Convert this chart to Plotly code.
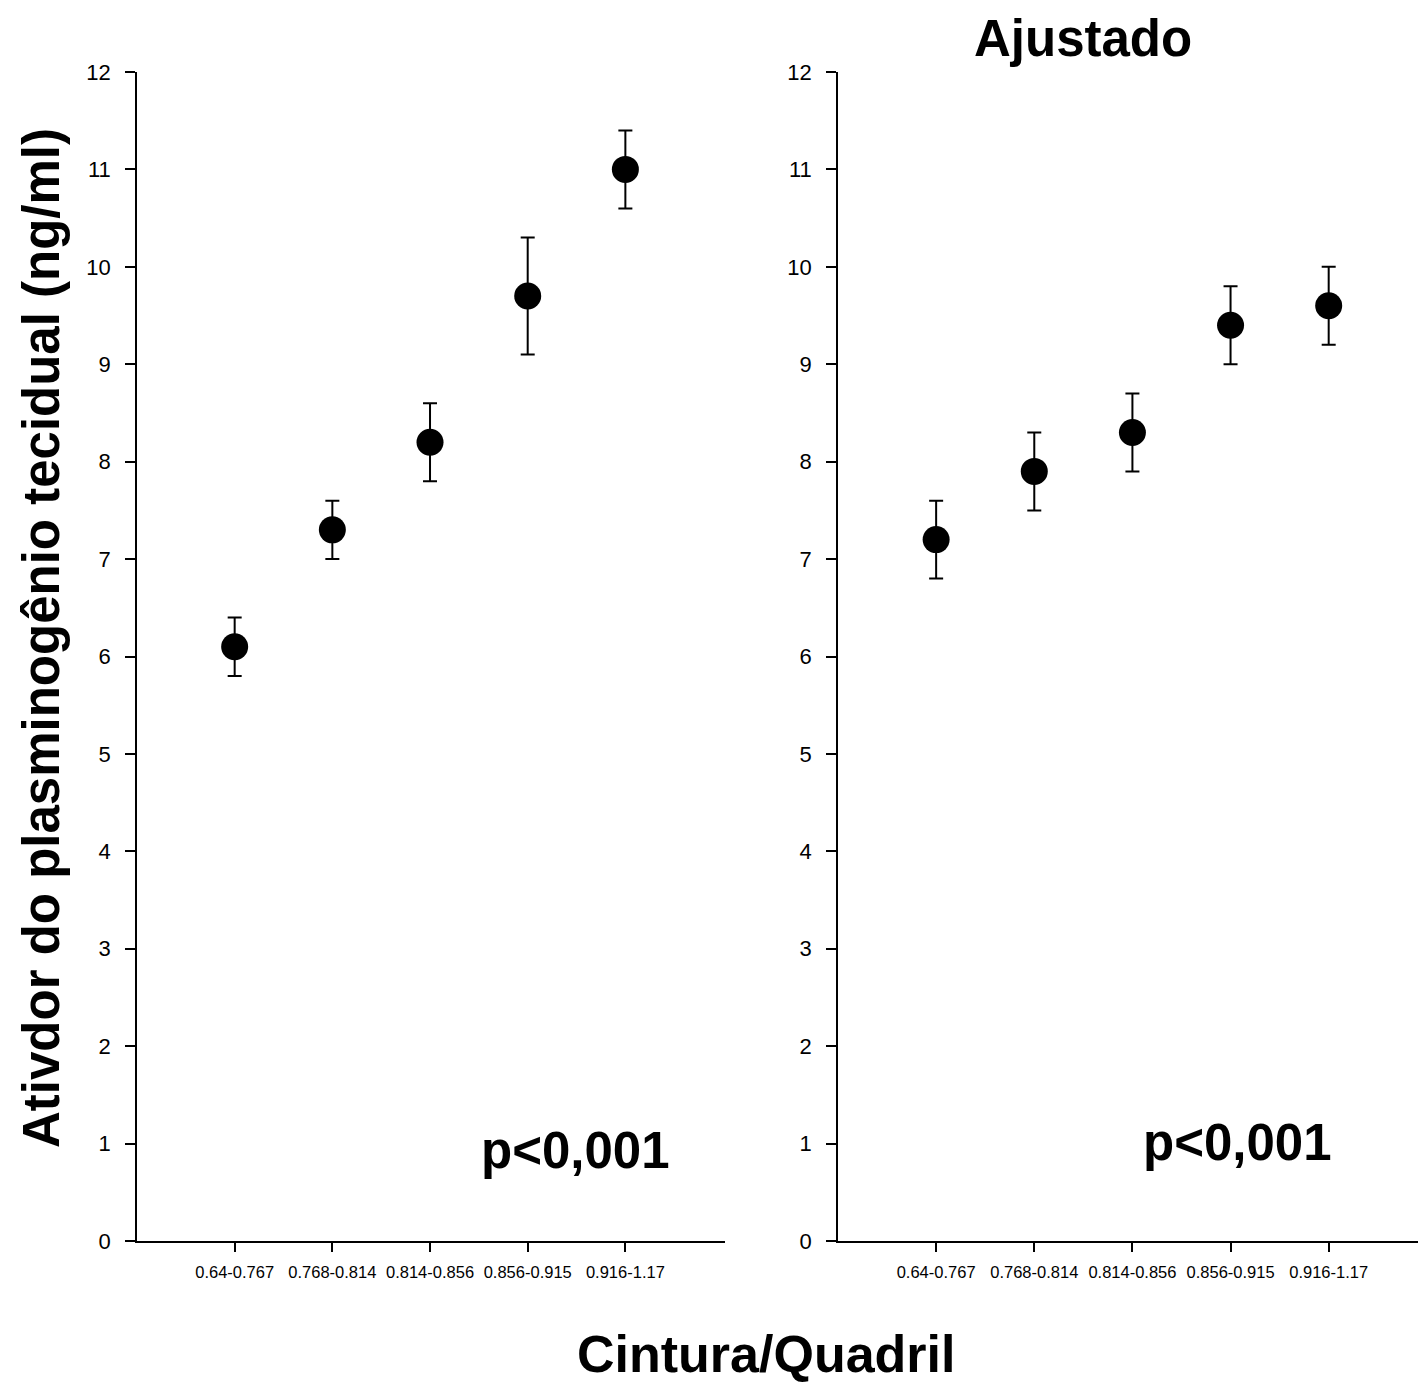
import plotly.graph_objects as go

# ---- data ----
categories = ["0.64-0.767", "0.768-0.814", "0.814-0.856", "0.856-0.915", "0.916-1.17"]
positions = [1, 2, 3, 4, 5]
crude_mean = [6.1, 7.3, 8.2, 9.7, 11.0]
crude_err = [0.3, 0.3, 0.4, 0.6, 0.4]
adj_mean = [7.2, 7.9, 8.3, 9.4, 9.6]
adj_err = [0.4, 0.4, 0.4, 0.4, 0.4]
y_ticks = list(range(0, 13))

W, H = 1418, 1388
FONT = "Liberation Sans, Arial, sans-serif"


def px_x(p):
    return p / W


def px_y(p):
    return 1 - p / H


fig = go.Figure()

for mean, err, xa, ya in [(crude_mean, crude_err, "x", "y"), (adj_mean, adj_err, "x2", "y2")]:
    fig.add_trace(go.Scatter(
        x=positions, y=mean, mode="markers",
        marker=dict(size=27, color="black"),
        error_y=dict(type="data", array=err, color="black", thickness=2, width=7),
        xaxis=xa, yaxis=ya, showlegend=False, cliponaxis=False,
    ))

common_x = dict(
    tickvals=positions, ticktext=categories, showline=True, linecolor="black", linewidth=1.5,
    ticks="outside", ticklen=9, tickwidth=1.5, tickcolor="black", showgrid=False, zeroline=False,
    tickfont=dict(family=FONT, size=16.5, color="black"), ticklabelstandoff=6, automargin=False,
)
common_y = dict(
    range=[0, 12], tickvals=y_ticks, showline=True, linecolor="black", linewidth=1.5,
    ticks="outside", ticklen=10, tickwidth=1.5, tickcolor="black", showgrid=False, zeroline=False,
    tickfont=dict(family=FONT, size=22, color="black"), ticklabelstandoff=10, automargin=False,
)

y_dom = [px_y(1241), px_y(72)]

fig.update_layout(
    width=W, height=H, margin=dict(l=0, r=0, t=0, b=0, pad=0, autoexpand=False),
    paper_bgcolor="white", plot_bgcolor="white", showlegend=False,
    xaxis=dict(domain=[px_x(137), px_x(725)], range=[0, 6.02], anchor="y", **common_x),
    yaxis=dict(domain=y_dom, anchor="x", **common_y),
    xaxis2=dict(domain=[px_x(838), px_x(1418)], range=[0, 5.91], anchor="y2", **common_x),
    yaxis2=dict(domain=y_dom, anchor="x2", **common_y),
)

annotations = [
    dict(text="<b>Ajustado</b>", x=px_x(1083), y=px_y(38), size=51),
    dict(text="<b>Cintura/Quadril</b>", x=px_x(766), y=px_y(1354), size=52),
    dict(text="<b>p<0,001</b>", x=px_x(575), y=px_y(1150), size=51),
    dict(text="<b>p<0,001</b>", x=px_x(1237), y=px_y(1142), size=51),
]
for a in annotations:
    fig.add_annotation(text=a["text"], x=a["x"], y=a["y"], xref="paper", yref="paper",
                       xanchor="center", yanchor="middle", showarrow=False,
                       font=dict(family=FONT, size=a["size"], color="black"))

fig.add_annotation(text="<b>Ativdor do plasminogênio tecidual (ng/ml)</b>",
                   x=px_x(42), y=px_y(638), xref="paper", yref="paper",
                   xanchor="center", yanchor="middle", showarrow=False, textangle=-90,
                   font=dict(family=FONT, size=51, color="black"))

fig.write_html("out.html")
